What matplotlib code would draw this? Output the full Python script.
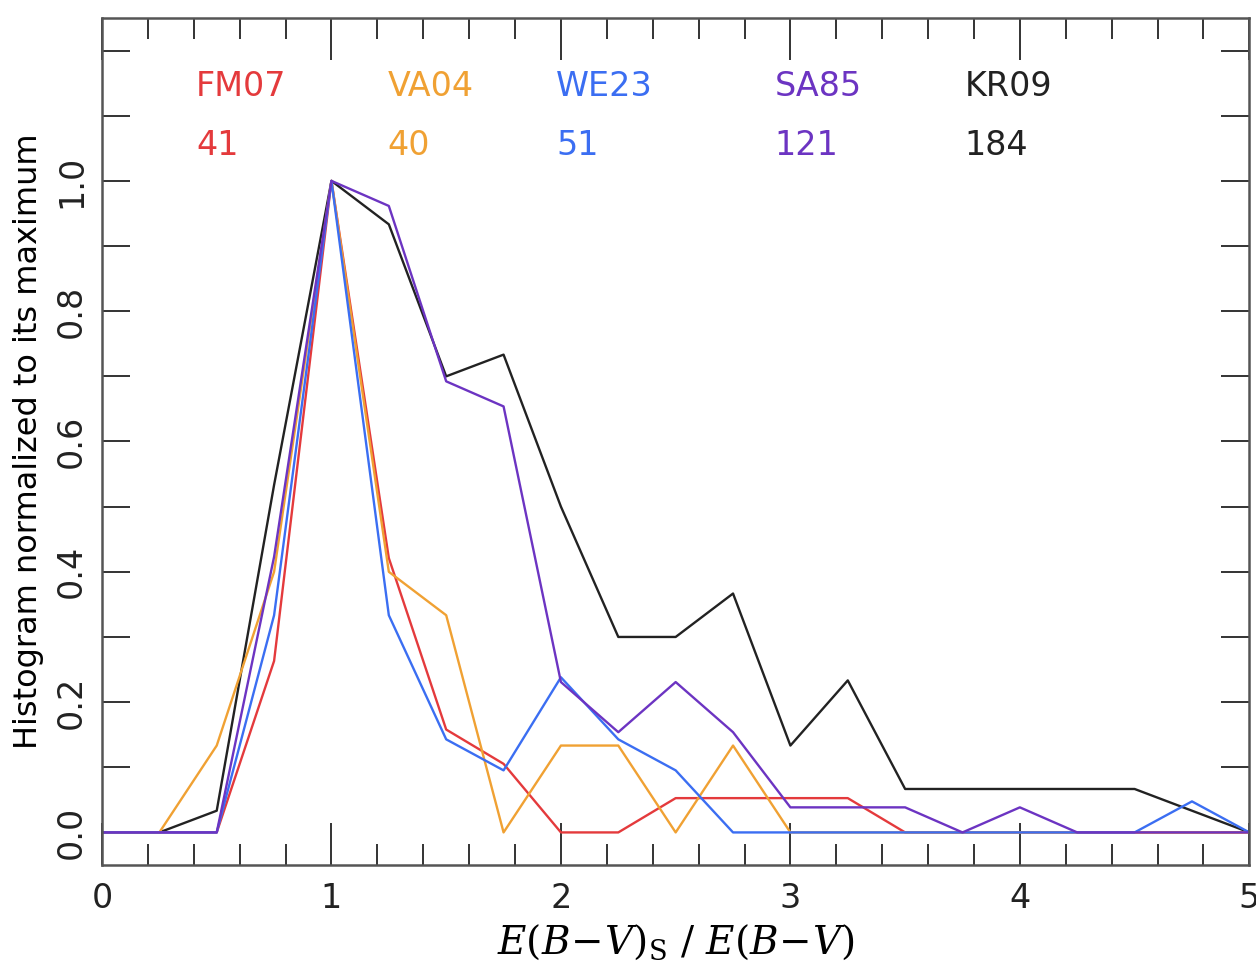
import matplotlib
matplotlib.use("Agg")
import matplotlib.pyplot as plt
import numpy as np
from matplotlib.ticker import MultipleLocator

# bin centres of the histograms
x = np.arange(0, 5.01, 0.25)

# normalized histograms (counts / max count)
fm07 = np.array([0, 0, 0, 5, 19, 8, 3, 2, 0, 0, 1, 1, 1, 1, 0, 0, 0, 0, 0, 0, 0]) / 19
va04 = np.array([0, 0, 2, 6, 15, 6, 5, 0, 2, 2, 0, 2, 0, 0, 0, 0, 0, 0, 0, 0, 0]) / 15
we23 = np.array([0, 0, 0, 7, 21, 7, 3, 2, 5, 3, 2, 0, 0, 0, 0, 0, 0, 0, 0, 1, 0]) / 21
sa85 = np.array([0, 0, 0, 11, 26, 25, 18, 17, 6, 4, 6, 4, 1, 1, 1, 0, 1, 0, 0, 0, 0]) / 26
kr09 = np.array([0, 0, 1, 16, 30, 28, 21, 22, 15, 9, 9, 11, 4, 7, 2, 2, 2, 2, 2, 1, 0]) / 30

names = ["FM07", "VA04", "WE23", "SA85", "KR09"]
counts = ["41", "40", "51", "121", "184"]
colors = ["#e43a3c", "#f0a133", "#3b6ef2", "#6c34c2", "#222222"]
label_x = [0.41, 1.245, 1.98, 2.93, 3.76]

plt.rcParams["mathtext.fontset"] = "dejavuserif"

fig = plt.figure(figsize=(12.56, 9.73), dpi=100)
ax = fig.add_axes([0.0812, 0.111, 0.9135, 0.8705])

ax.plot(x, kr09, color=colors[4], lw=1.7)
ax.plot(x, fm07, color=colors[0], lw=1.7)
ax.plot(x, va04, color=colors[1], lw=1.7)
ax.plot(x, we23, color=colors[2], lw=1.7)
ax.plot(x, sa85, color=colors[3], lw=1.7)

for nm, cnt, col, lx in zip(names, counts, colors, label_x):
    ax.text(lx, 1.145, nm, color=col, fontsize=24, ha="left", va="center")
    ax.text(lx, 1.055, cnt, color=col, fontsize=24, ha="left", va="center")

ax.set_xlim(0, 5)
ax.set_ylim(-0.05, 1.25)
ax.xaxis.set_major_locator(MultipleLocator(1))
ax.xaxis.set_minor_locator(MultipleLocator(0.2))
ax.yaxis.set_major_locator(MultipleLocator(0.2))
ax.yaxis.set_minor_locator(MultipleLocator(0.1))
ax.set_yticks([0, 0.2, 0.4, 0.6, 0.8, 1.0])
ax.set_yticklabels(["0.0", "0.2", "0.4", "0.6", "0.8", "1.0"], rotation=90, va="center")

ax.tick_params(which="both", direction="in", top=True, right=True,
               labelsize=24, color="#333333", width=1.4, labelcolor="#222222")
ax.tick_params(axis="x", which="major", length=30, pad=12)
ax.tick_params(axis="x", which="minor", length=15)
ax.tick_params(axis="y", which="both", length=20, pad=10)

for s in ax.spines.values():
    s.set_linewidth(1.8)
    s.set_color("#555555")

ax.set_xlabel(r"$E(B\!-\!V)_{\rm S}\ /\ E(B\!-\!V)$", fontsize=28, labelpad=6)
ax.set_ylabel("Histogram normalized to its maximum", fontsize=23, labelpad=8)

fig.savefig("out.png", dpi=100)
